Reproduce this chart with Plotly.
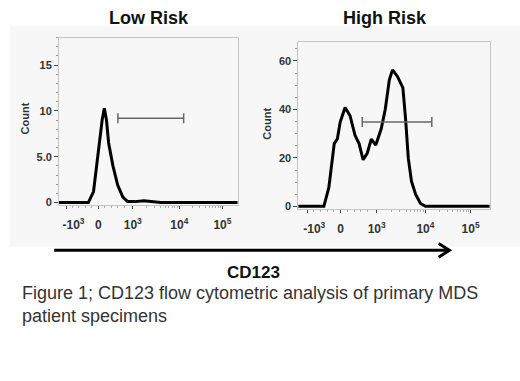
import math
import plotly.graph_objects as go

W, H = 520, 381
FONT = "Arial, Liberation Sans, sans-serif"

# ---- data (x in display units of the biexponential CD123 scale) ----
tick_vals = [-0.73, 0.0, 0.80, 1.88, 2.88]
tick_text = ["&nbsp;&nbsp;&nbsp;&nbsp;-10<sup>3</sup>", "0", "10<sup>3</sup>", "10<sup>4</sup>", "10<sup>5</sup>"]

low_x = [-0.95, -0.23, -0.11, -0.04, 0.04, 0.09, 0.14, 0.19, 0.24, 0.34, 0.45, 0.57, 0.68, 0.85, 1.06, 1.29, 1.45, 3.30]
low_y = [0, 0, 1.2, 4.0, 6.9, 9.0, 10.3, 9.0, 6.5, 4.0, 1.9, 0.6, 0.1, 0.1, 0.2, 0.05, 0, 0]

high_x = [-0.95, -0.37, -0.26, -0.19, -0.14, -0.07, -0.01, 0.10, 0.21, 0.32, 0.41, 0.50, 0.59, 0.68,
          0.78, 0.90, 0.99, 1.08, 1.15, 1.26, 1.38, 1.44, 1.50, 1.57, 1.66, 1.77, 1.88, 3.35]
high_y = [0, 0, 7.7, 19.8, 25.9, 27.9, 34.7, 40.8, 37.4, 29.3, 25.9, 19.2, 21.9, 27.7,
          25.3, 32.0, 40.1, 52.2, 56.3, 53.6, 48.9, 36.0, 19.8, 10.4, 5.0, 1.2, 0, 0]

low_gate_x = [0.455, 1.98]
low_gate_y = [9.2, 9.2]
high_gate_x = [0.48, 2.02]
high_gate_y = [34.8, 34.8]

low_yticks = [0, 5, 10, 15]
low_yticktext = ["0", "5.0", "10", "15"]
high_yticks = [0, 20, 40, 60]
high_yticktext = ["0", "20", "40", "60"]

titles = ["Low Risk", "High Risk"]
axis_label = "CD123"
caption_lines = ["Figure 1; CD123 flow cytometric analysis of primary MDS", "patient specimens"]


def px(x):
    return x / W


def py(y):
    return 1 - y / H


# minor x ticks (log subdivisions inside decades)
minor_x = []
for a, b in [(0.80, 1.88), (1.88, 2.88)]:
    for k in range(2, 10):
        minor_x.append(a + math.log10(k) * (b - a))
minor_x += [0.15, 0.3, 0.45, 0.6, -0.15, -0.3, -0.45, -0.6]

fig = go.Figure()

fig.add_trace(go.Scatter(x=low_x, y=low_y, mode="lines", line=dict(color="black", width=3),
                         xaxis="x", yaxis="y", showlegend=False, hoverinfo="skip"))
fig.add_trace(go.Scatter(x=low_gate_x, y=low_gate_y, mode="lines+markers",
                         line=dict(color="#666", width=1.5),
                         marker=dict(symbol="line-ns-open", size=7, line=dict(color="#666", width=1.5)),
                         xaxis="x", yaxis="y", showlegend=False, hoverinfo="skip"))
fig.add_trace(go.Scatter(x=high_x, y=high_y, mode="lines", line=dict(color="black", width=3),
                         xaxis="x2", yaxis="y2", showlegend=False, hoverinfo="skip"))
fig.add_trace(go.Scatter(x=high_gate_x, y=high_gate_y, mode="lines+markers",
                         line=dict(color="#666", width=1.5),
                         marker=dict(symbol="line-ns-open", size=7, line=dict(color="#666", width=1.5)),
                         xaxis="x2", yaxis="y2", showlegend=False, hoverinfo="skip"))

xcommon = dict(tickmode="array", tickvals=tick_vals, ticktext=[f"<b>{t}</b>" for t in tick_text],
               ticks="outside", ticklen=3, tickcolor="#444", showgrid=False, zeroline=False,
               showline=True, mirror=True, linecolor="#c4c4c4", linewidth=1,
               tickfont=dict(family=FONT, size=12, color="#333"), ticklabelstandoff=6,
               minor=dict(tickvals=minor_x, ticks="outside", ticklen=2, tickcolor="#aaa"),
               fixedrange=True)
ycommon = dict(ticks="outside", ticklen=4, tickcolor="#444", showgrid=False, zeroline=False,
               showline=True, mirror=True, linecolor="#c4c4c4", linewidth=1,
               tickfont=dict(family=FONT, size=11, color="#333"), fixedrange=True)

fig.update_layout(
    width=W, height=H,
    margin=dict(l=0, r=0, t=0, b=0),
    paper_bgcolor="white", plot_bgcolor="#f7f7f7",
    xaxis=dict(domain=[px(50), px(232)], range=[-0.91, 3.23], anchor="y", **xcommon),
    yaxis=dict(domain=[py(207), py(38)], range=[-0.25, 18], anchor="x",
               tickmode="array", tickvals=low_yticks, ticktext=[f"<b>{t}</b>" for t in low_yticktext],
               minor=dict(dtick=1, ticks="outside", ticklen=2, tickcolor="#999"), **ycommon),
    xaxis2=dict(domain=[px(294), px(489)], range=[-0.935, 3.30], anchor="y2", **xcommon),
    yaxis2=dict(domain=[py(211), py(42)], range=[-1, 68], anchor="x2",
                tickmode="array", tickvals=high_yticks, ticktext=[f"<b>{t}</b>" for t in high_yticktext],
                minor=dict(dtick=5, ticks="outside", ticklen=2, tickcolor="#999"), **ycommon),
)

shapes = [
    dict(type="rect", xref="paper", yref="paper", x0=0, x1=1, y0=py(249), y1=py(26),
         fillcolor="#f7f7f7", line=dict(width=0), layer="below"),
    dict(type="line", xref="paper", yref="paper", x0=px(45), x1=px(447), y0=py(253), y1=py(253),
         line=dict(color="black", width=3)),
    dict(type="path", xref="paper", yref="paper",
         path=f"M{px(437)},{py(246)} L{px(448)},{py(253)} L{px(437)},{py(260)}",
         line=dict(color="black", width=3)),
]
fig.update_layout(shapes=shapes)

ann = []
for t, xc in zip(titles, [142, 382]):
    ann.append(dict(text=f"<b>{t}</b>", x=px(xc), y=py(18), xref="paper", yref="paper",
                    showarrow=False, font=dict(family=FONT, size=18, color="#111"),
                    xanchor="center", yanchor="middle"))
for xc, yc in [(15, 120), (262, 125)]:
    ann.append(dict(text="<b>Count</b>", x=px(xc), y=py(yc), xref="paper", yref="paper",
                    showarrow=False, textangle=-90, font=dict(family=FONT, size=11, color="#333"),
                    xanchor="center", yanchor="middle"))
ann.append(dict(text=f"<b>{axis_label}</b>", x=px(248), y=py(275), xref="paper", yref="paper",
                showarrow=False, font=dict(family=FONT, size=17, color="#111"),
                xanchor="center", yanchor="middle"))
for line, yc in zip(caption_lines, [296, 319]):
    ann.append(dict(text=line, x=px(18), y=py(yc), xref="paper", yref="paper",
                    showarrow=False, align="left", font=dict(family=FONT, size=18, color="#333"),
                    xanchor="left", yanchor="middle", xshift=-8))
fig.update_layout(annotations=ann)

fig.write_html("out.html", config={"displayModeBar": False},
               post_script="document.body.style.margin='0px';")
